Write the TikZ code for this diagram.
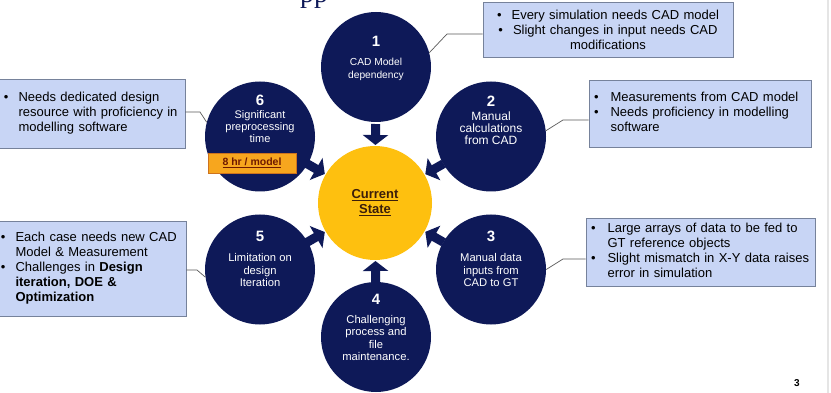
\documentclass[tikz,border=0pt]{standalone}
\usepackage{fontspec}
\setmainfont{Liberation Sans}
\newfontfamily\titleserif{Liberation Serif}
\usetikzlibrary{arrows.meta,calc}
\definecolor{navy}{RGB}{14,25,88}
\definecolor{amber}{RGB}{254,192,15}
\definecolor{boxfill}{RGB}{200,213,245}
\definecolor{boxline}{RGB}{118,130,155}
\definecolor{connc}{RGB}{90,90,90}
\definecolor{hrfill}{RGB}{247,166,30}
\definecolor{hrline}{RGB}{205,115,30}
\definecolor{hrtext}{RGB}{110,25,0}
\definecolor{cstext}{RGB}{60,30,10}
\begin{document}
\begin{tikzpicture}[x=1pt,y=-1pt,
  circ/.style={circle, fill=navy, minimum size=110pt, inner sep=0pt},
  ycirc/.style={circle, fill=amber, minimum size=114pt, inner sep=0pt},
  num/.style={text=white, inner sep=0pt, font=\bfseries\fontsize{15}{15}\selectfont},
  ctext/.style={text=white, align=center, inner sep=0pt, font=\fontsize{11.2}{12.3}\selectfont},
  callout/.style={draw=boxline, fill=boxfill, line width=0.8pt, inner ysep=0pt, inner xsep=5pt, font=\fontsize{13}{15}\selectfont},
  conn/.style={draw=connc, line width=0.7pt},
  blockarrow/.style={draw=navy, line width=9pt, -{Triangle[width=25pt,length=10pt]}},
  hrbox/.style={draw=hrline, fill=hrfill, line width=0.6pt, minimum width=88pt, minimum height=20pt, inner sep=0pt, text=hrtext, font=\bfseries\fontsize{10.5}{12}\selectfont}
]
\useasboundingbox (0,0) rectangle (831,393);
\fill[white] (0,0) rectangle (831,393);
\clip (0,0) rectangle (831,393);

% cut-off title fragment
\node[anchor=base west, inner sep=0pt, text=navy, font=\titleserif\fontsize{28}{28}\selectfont] (title) at (300,2.5) {pp};

% right edge line
\draw[black!10, line width=2pt] (828,0) -- (828,393);

% centre
\node[ycirc] (cs) at (375,203) {};
\node[align=center, inner sep=0pt, text=cstext, font=\bfseries\fontsize{13}{15}\selectfont] (cst) at (375,203) {\underline{Current}\\\underline{State}};

% circles
\node[circ] (c1) at (376,67) {};
\node[circ] (c2) at (491,136.5) {};
\node[circ] (c3) at (491,269.5) {};
\node[circ] (c4) at (376,337) {};
\node[circ] (c5) at (260,269.5) {};
\node[circ] (c6) at (260,136.5) {};

\node[num] (n1) at (376,41) {1};
\node[ctext, font=\fontsize{10.2}{12.5}\selectfont] (t1) at (376,69.5) {CAD Model\\dependency};
\node[num] (n2) at (491,101) {2};
\node[ctext, font=\fontsize{12}{12}\selectfont] (t2) at (491,128) {Manual\\calculations\\from CAD};
\node[num] (n3) at (491,236) {3};
\node[ctext] (t3) at (491,270) {Manual data\\inputs from\\CAD to GT};
\node[num] (n4) at (376,299) {4};
\node[ctext] (t4) at (376,338) {Challenging\\process and\\file\\maintenance.};
\node[num] (n5) at (260,236) {5};
\node[ctext] (t5) at (260,270) {Limitation on\\design\\Iteration};
\node[num] (n6) at (260,100) {6};
\node[ctext, font=\fontsize{11}{12.3}\selectfont] (t6) at (260,126.5) {Significant\\preprocessing\\time};
\node[hrbox] (hr) at (252,163) {\underline{8 hr / model}};

% block arrows
\foreach \c in {c1,c2,c3,c4,c5,c6}{
  \draw[blockarrow] ($(cs)!79pt!(\c)$) -- ($(cs)!58pt!(\c)$);
}

% callout boxes
\node[callout, minimum width=250pt, minimum height=55pt, text width=240pt, align=center] (b1) at (608,29.5)
  {\textbullet\hspace{10pt}Every simulation needs CAD model\\\textbullet\hspace{10pt}Slight changes in input needs CAD\\modifications};
\node[callout, minimum width=222pt, minimum height=67pt, text width=212pt, align=left] (b2) at (700,113.5)
  {\begin{tabular}{@{}l@{\hspace{12pt}}l@{}}\textbullet & Measurements from CAD model\\ \textbullet & Needs proficiency in modelling\\ & software\end{tabular}};
\node[callout, minimum width=229pt, minimum height=68pt, text width=219pt, align=left] (b3) at (700.5,252)
  {\begin{tabular}{@{}l@{\hspace{12pt}}l@{}}\textbullet & Large arrays of data to be fed to\\ & GT reference objects\\ \textbullet & Slight mismatch in X-Y data raises\\ & error in simulation\end{tabular}};
\node[callout, minimum width=190pt, minimum height=95pt, text width=180pt, align=left, inner xsep=5pt] (b5) at (91,268.5)
  {\begin{tabular}{@{}l@{\hspace{10pt}}l@{}}\textbullet & Each case needs new CAD\\ & Model \& Measurement\\ \textbullet & Challenges in \textbf{Design}\\ & \textbf{iteration, DOE \&}\\ & \textbf{Optimization}\end{tabular}};
\node[callout, minimum width=186pt, minimum height=69pt, text width=176pt, align=left] (b6) at (92,113.5)
  {\begin{tabular}{@{}l@{\hspace{10pt}}l@{}}\textbullet & Needs dedicated design\\ & resource with proficiency in\\ & modelling software\end{tabular}};

% connectors
\coordinate (k1) at (447,34);
\coordinate (k2) at (563,120);
\coordinate (k3) at (563,259);
\coordinate (k5) at (197,270);
\coordinate (k6) at (200,112);
\draw[conn] (c1.15) -- (k1) -- (k1 -| b1.west);
\draw[conn] (c2.6) -- (k2) -- (k2 -| b2.west);
\draw[conn] (c3.0) -- (k3) -- (k3 -| b3.west);
\draw[conn] (c5.188) -- (k5) -- (k5 -| b5.east);
\draw[conn] (c6.165) -- (k6) -- (k6 -| b6.east);

% page number
\node[inner sep=0pt, font=\bfseries\fontsize{10}{12}\selectfont] (pg) at (797,383) {3};
\end{tikzpicture}
\end{document}
